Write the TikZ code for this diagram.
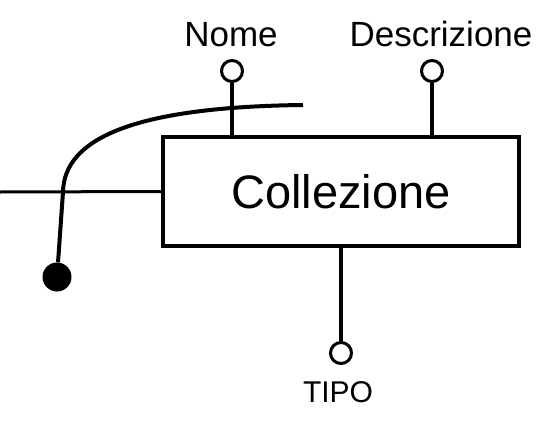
\documentclass[tikz,border=0pt]{standalone}
\usepackage{fontspec}
\setmainfont{Liberation Sans}
\begin{document}
\begin{tikzpicture}[x=1pt,y=-1pt,
  attr/.style={draw,circle,line width=3pt,minimum size=21pt,inner sep=0pt},
  card/.style={fill,circle,minimum size=29pt,inner sep=0pt},
  lab/.style={inner sep=0pt,anchor=base,font=\fontsize{35}{40}\selectfont}]
  \useasboundingbox (0,0) rectangle (540,420);
  \node[draw,line width=4.5pt,minimum width=356pt,minimum height=109pt,inner sep=0pt,
    font=\fontsize{47}{52}\selectfont] (coll) at (341,191.5) {Collezione};
  \node[attr] (nome) at (232,71) {};
  \node[attr] (descr) at (432,71) {};
  \node[attr] (tipo) at (341,353) {};
  \node[lab] (nomelab) at (231,47) {Nome};
  \node[lab] (descrlab) at (441,47) {Descrizione};
  \node[lab,font=\fontsize{30}{36}\selectfont] (tipolab) at (338,402) {TIPO};
  \coordinate (lend) at (0,192);
  \coordinate (arcstart) at (303,105);
  \coordinate (arcmid) at (63,192);
  \node[card] (dot) at (57,277) {};
  \draw[line width=3.5pt] (nome.south) -- (nome.south |- coll.north);
  \draw[line width=3.5pt] (descr.south) -- (descr.south |- coll.north);
  \draw[line width=3.5pt] (tipo.north) -- (tipo.north |- coll.south);
  \draw[line width=3pt] (lend) -- (coll.west);
  \draw[line width=4pt] (arcstart) .. controls (130,107) and (64,140) .. (arcmid) -- (dot);
\end{tikzpicture}
\end{document}
